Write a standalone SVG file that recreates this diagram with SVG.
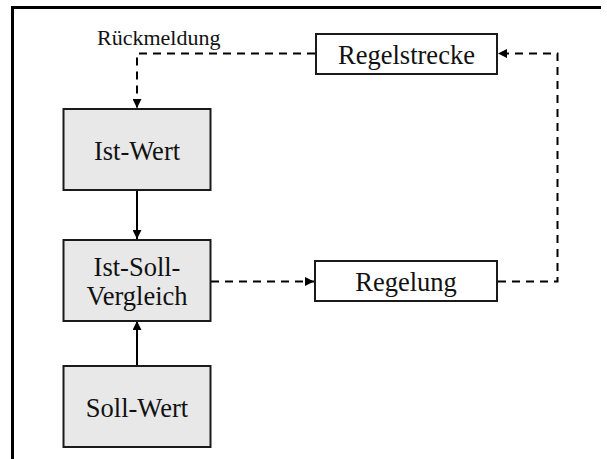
<svg xmlns="http://www.w3.org/2000/svg" width="607" height="459" viewBox="0 0 607 459">
<style>
.box{stroke:#1a1a1a;stroke-width:2}
.gray{fill:#e8e8e8}
.white{fill:#ffffff}
.t{font-family:"Liberation Serif","Times New Roman",serif;font-size:26.5px;fill:#111;text-anchor:middle}
.lbl{font-family:"Liberation Serif","Times New Roman",serif;font-size:22px;fill:#111}
.solid{fill:none;stroke:#000;stroke-width:2}
.dash{fill:none;stroke:#000;stroke-width:2;stroke-dasharray:8,6}
.frame{fill:none;stroke:#000;stroke-width:3}
</style>
<defs>
<marker id="ah" viewBox="0 0 10 10" refX="10" refY="5" markerWidth="9" markerHeight="9" markerUnits="userSpaceOnUse" orient="auto">
<path d="M0,0 L10,5 L0,10 z" fill="#000"/>
</marker>
</defs>
<rect width="607" height="459" fill="#fff"/>
<g id="frame">
<path class="frame" d="M12.5,459 L12.5,7.5 L601,7.5"/>
</g>
<g id="connectors">
<path class="dash" d="M315,53.5 L137,53.5 L137,108" marker-end="url(#ah)"/>
<path class="solid" d="M137,190 L137,239" marker-end="url(#ah)"/>
<path class="solid" d="M137,366 L137,321" marker-end="url(#ah)"/>
<path class="dash" d="M211,281.5 L314,281.5" marker-end="url(#ah)"/>
<path class="dash" d="M498,281.5 L557.5,281.5 L557.5,53.5 L498,53.5" marker-end="url(#ah)"/>
</g>
<g id="label-rueckmeldung">
<text class="lbl" x="97" y="45">Rückmeldung</text>
</g>
<g id="node-regelstrecke">
<rect class="box white" x="316" y="34" width="181" height="40"/>
<text class="t" x="406.5" y="64">Regelstrecke</text>
</g>
<g id="node-istwert">
<rect class="box gray" x="63.5" y="109" width="147" height="81"/>
<text class="t" x="137" y="160">Ist-Wert</text>
</g>
<g id="node-istsoll">
<rect class="box gray" x="63.5" y="240" width="147" height="81"/>
<text class="t" x="137" y="276">Ist-Soll-</text>
<text class="t" x="137" y="305">Vergleich</text>
</g>
<g id="node-regelung">
<rect class="box white" x="315" y="261" width="182" height="40"/>
<text class="t" x="406" y="291">Regelung</text>
</g>
<g id="node-sollwert">
<rect class="box gray" x="63.5" y="366" width="147" height="81"/>
<text class="t" x="137" y="417">Soll-Wert</text>
</g>
</svg>
